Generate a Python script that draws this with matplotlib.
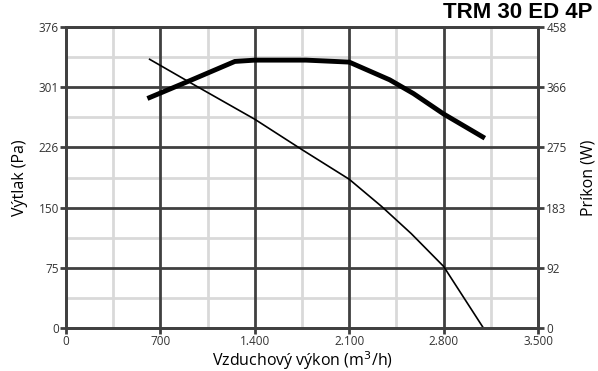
import numpy as np
import matplotlib.pyplot as plt

# tlak (Pa) vs prutok
q_tlak = [620, 940, 1400, 1750, 2100, 2340, 2560, 2800, 3095]
tlak = [336, 305, 261, 223, 186, 152, 118, 77, 0]

# prikon (W) vs prutok
q_prikon = [620, 910, 1252, 1400, 1780, 2100, 2400, 2577, 2800, 3090]
prikon = [351, 376, 406, 408, 408, 405, 378, 357, 326, 291]

x_ticks = [0, 700, 1400, 2100, 2800, 3500]
x_labels = ['0', '700', '1.400', '2.100', '2.800', '3.500']
y_ticks = [0, 75, 150, 226, 301, 376]
y2_labels = ['0', '92', '183', '275', '366', '458']

plt.rcParams['font.family'] = ['Open Sans', 'DejaVu Sans']

fig = plt.figure(figsize=(5.98, 3.71), dpi=100)
ax = fig.add_axes([0.1104, 0.1159, 0.7893, 0.8105])

ax.set_xlim(0, 3500)
ax.set_ylim(0, 376)

# mriezka
for x in np.arange(350, 3500, 700):
    ax.axvline(x, color='#d9d9d9', lw=2, zorder=1)
for y in [37.5, 112.5, 188, 263.5, 338.5]:
    ax.axhline(y, color='#d9d9d9', lw=2, zorder=1)
for x in x_ticks[1:-1]:
    ax.axvline(x, color='#404040', lw=2, zorder=2)
for y in y_ticks[1:-1]:
    ax.axhline(y, color='#404040', lw=2, zorder=2)

ax.plot(q_tlak, tlak, color='black', lw=1.2, zorder=4)

ax2 = ax.twinx()
ax2.set_ylim(0, 458)
ax2.plot(q_prikon, prikon, color='black', lw=3.5, solid_joinstyle='miter', zorder=4)

for a in (ax, ax2):
    for s in a.spines.values():
        s.set_color('#404040')
        s.set_linewidth(2)
        s.set_zorder(5)

ax.set_xticks(x_ticks)
ax.set_xticklabels(x_labels)
ax.set_yticks(y_ticks)
ax.set_yticklabels([str(v) for v in y_ticks])
ax2.set_yticks([v * 458 / 376 for v in y_ticks])
ax2.set_yticklabels(y2_labels)

ax.tick_params(axis='both', colors='#404040', labelcolor='#333333', labelsize=8.5,
               length=4, width=2, pad=1)
ax2.tick_params(axis='y', colors='#404040', labelcolor='#333333', labelsize=8.5,
                length=4, width=2, pad=2)

ax.set_xlabel('Vzduchový výkon (m$^3$/h)', fontsize=11.5, labelpad=1)
ax.set_ylabel('Výtlak (Pa)', fontsize=11.5, labelpad=8)
ax2.set_ylabel('Príkon (W)', fontsize=11.5, labelpad=10)

fig.text(0.99, 0.965, 'TRM 30 ED 4P', ha='right', va='center', fontsize=16,
         fontweight='bold', family='Liberation Sans')

fig.savefig('out.png', dpi=100)
